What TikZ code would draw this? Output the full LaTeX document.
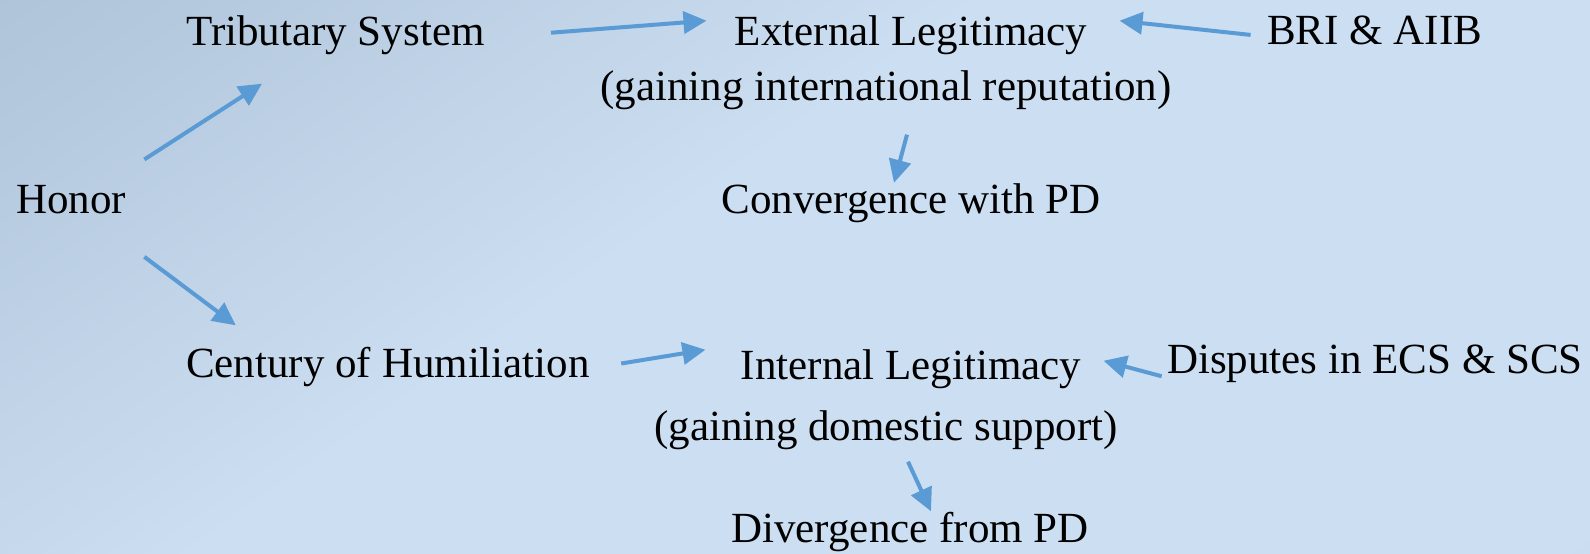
\documentclass[tikz,border=0pt]{standalone}
\usepackage{fontspec}
\setmainfont{Liberation Serif}
\usetikzlibrary{arrows.meta}
\definecolor{arrowblue}{RGB}{91,155,213}
\definecolor{bgbase}{RGB}{204,222,241}
\definecolor{bgdark}{RGB}{160,182,205}
\definecolor{bgcorner}{RGB}{174,194,216}
\pgfdeclarehorizontalshading{backdrop}{100bp}{color(0bp)=(bgdark); color(44bp)=(bgbase); color(84bp)=(bgbase); color(100bp)=(bgcorner)}
\tikzset{
  txt/.style={anchor=base, inner sep=0pt, font=\fontsize{21.5}{27}\selectfont},
  flow/.style={-{Triangle[length=11.5pt,width=11pt]}, line width=2pt, draw=arrowblue},
}
\begin{document}
\begin{tikzpicture}[x=0.5pt,y=-0.5pt]
    \useasboundingbox (0,0) rectangle (1590,553);
    \shade[shading=backdrop, shading angle=-55] (0,0) rectangle (1590,553);
    \node[txt] (honor) at (71,213) {Honor};
    \node[txt] (trib) at (335.5,45) {Tributary System};
    \node[txt] (ext) at (911,45) {External Legitimacy};
    \node[txt] (extsub) at (886,100) {(gaining international reputation)};
    \node[txt] (bri) at (1374.5,44) {BRI \& AIIB};
    \node[txt] (conv) at (911,213) {Convergence with PD};
    \node[txt] (century) at (388,377) {Century of Humiliation};
    \node[txt] (intl) at (911,379) {Internal Legitimacy};
    \node[txt] (intlsub) at (886,440) {(gaining domestic support)};
    \node[txt] (disp) at (1375,373) {Disputes in ECS \& SCS};
    \node[txt] (div) at (910,542) {Divergence from PD};
    \draw[flow] ([shift={(18,-25)}]honor.north east) -- ([shift={(76,29)}]trib.south west);
    \draw[flow] ([shift={(18,43)}]honor.south east) -- ([shift={(50,-21)}]century.north west);
    \draw[flow] ([shift={(66,-2)}]trib.east) -- ([shift={(-28,-14)}]ext.west);
    \draw[flow] ([shift={(-16,5)}]bri.west) -- ([shift={(32,-14)}]ext.east);
    \draw[flow] ([shift={(21,25)}]extsub.south) -- ([shift={(-17,0)}]conv.north);
    \draw[flow] ([shift={(31,-3)}]century.east) -- ([shift={(-35,-19)}]intl.west);
    \draw[flow] ([shift={(-5,13)}]disp.west) -- ([shift={(22,-8)}]intl.east);
    \draw[flow] ([shift={(22,12)}]intlsub.south) -- ([shift={(21,0)}]div.north);
    \end{tikzpicture}
\end{document}
